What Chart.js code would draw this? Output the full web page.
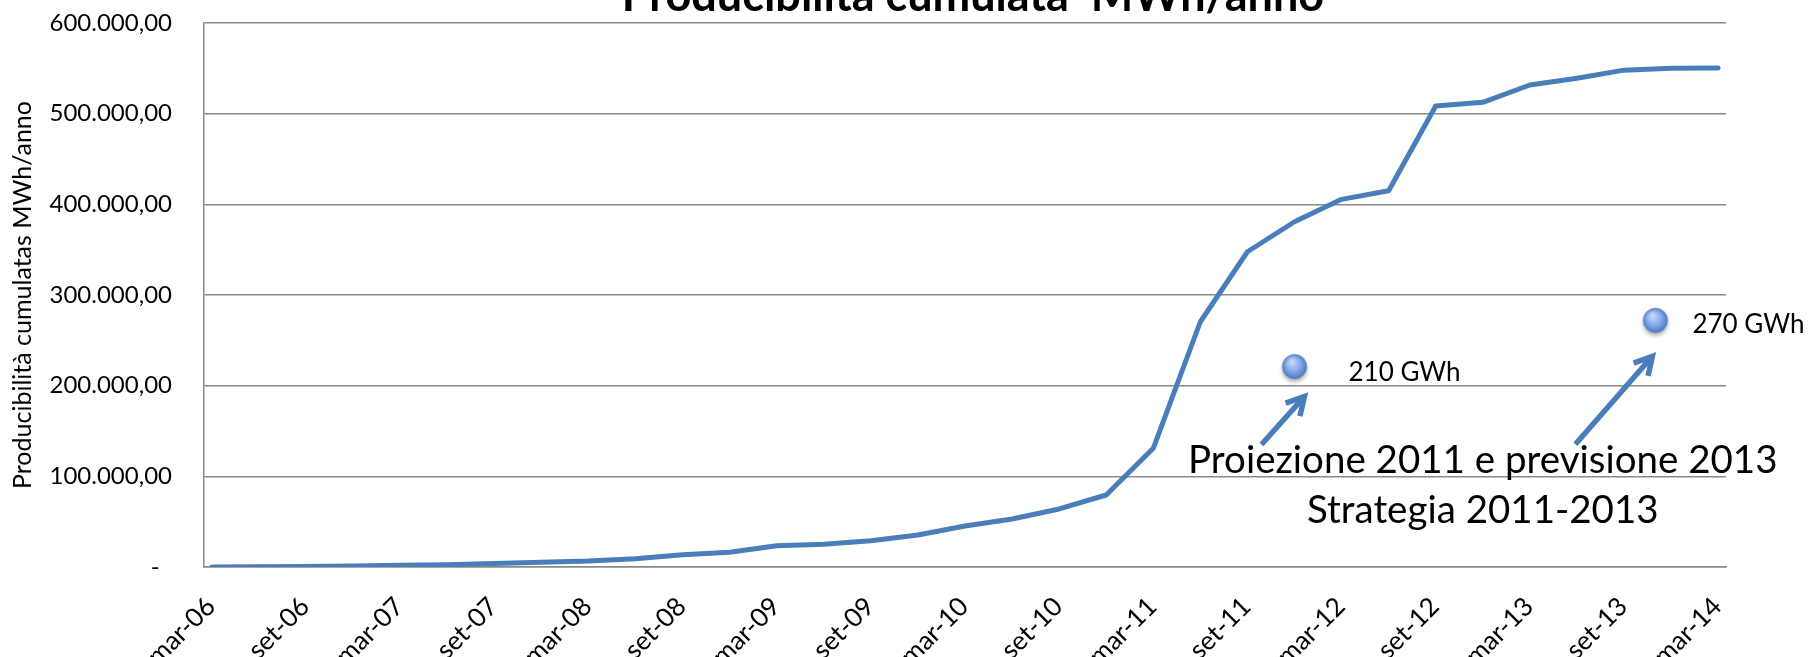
<!DOCTYPE html>
<html>
<head>
<meta charset="utf-8">
<script src="https://cdn.jsdelivr.net/npm/chart.js@4.4.1/dist/chart.umd.min.js"></script>
<style>
  html, body { margin: 0; padding: 0; background: #fff; }
</style>
</head>
<body>
<canvas id="chart" width="1808" height="657"></canvas>
<script>
// x axis runs in months from mar-06 (0) to mar-14 (96), labels every 6 months
const tickLabels = ['mar-06', 'set-06', 'mar-07', 'set-07', 'mar-08', 'set-08', 'mar-09', 'set-09',
  'mar-10', 'set-10', 'mar-11', 'set-11', 'mar-12', 'set-12', 'mar-13', 'set-13', 'mar-14'];

// quarterly values (every 3 months starting mar-06), MWh/anno
const cumulative = [0, 300, 600, 1100, 1800, 2600, 3800, 5200, 6500, 9000, 13500,
  16200, 23500, 25000, 29000, 35300, 45200, 52900, 64000, 79400, 130900,
  270500, 347700, 380800, 405500, 415000, 508400, 512500, 531600, 539000,
  548000, 550000, 550400];

// projection points (month index, value) and their labels
const projMonths = [69, 92];
const projValues = [220000, 271000];
const projLabels = ['210 GWh', '270 GWh'];

const titleText = 'Producibilità cumulata  MWh/anno';
const yTitle = 'Producibilità cumulatas MWh/anno';
const noteLines = ['Proiezione 2011 e previsione 2013', 'Strategia 2011-2013'];

const FONT = 'Lato, "Open Sans", sans-serif';
const BLUE = '#4a7ebb';
const GRID = '#8a8a8a';

function fmtIt(v) {
  if (v === 0) return '-  ';
  return String(Math.round(v)).replace(/\B(?=(\d{3})+(?!\d))/g, '.') + ',00';
}

// sphere-like marker, like the excel one
function makeMarker() {
  const c = document.createElement('canvas');
  c.width = 38; c.height = 38;
  const g = c.getContext('2d');
  g.save();
  g.shadowColor = 'rgba(0,0,0,0.35)';
  g.shadowBlur = 4;
  g.shadowOffsetY = 3;
  const grad = g.createRadialGradient(16, 13, 1, 19, 18, 13);
  grad.addColorStop(0, '#c4d8f8');
  grad.addColorStop(0.5, '#88adec');
  grad.addColorStop(1, '#4676c6');
  g.fillStyle = grad;
  g.beginPath();
  g.arc(19, 18, 12, 0, Math.PI * 2);
  g.fill();
  g.restore();
  g.strokeStyle = '#426fb3';
  g.lineWidth = 0.8;
  g.beginPath();
  g.arc(19, 18, 12, 0, Math.PI * 2);
  g.stroke();
  return c;
}

function drawArrow(ctx, x1, y1, x2, y2) {
  const ang = Math.atan2(y2 - y1, x2 - x1);
  const len = 20;
  ctx.beginPath();
  ctx.moveTo(x1, y1);
  ctx.lineTo(x2, y2);
  ctx.moveTo(x2 - len * Math.cos(ang - 0.5), y2 - len * Math.sin(ang - 0.5));
  ctx.lineTo(x2, y2);
  ctx.lineTo(x2 - len * Math.cos(ang + 0.5), y2 - len * Math.sin(ang + 0.5));
  ctx.stroke();
}

const extras = {
  id: 'extras',
  afterDatasetsDraw(chart) {
    const { ctx, chartArea, scales } = chart;
    const x = scales.x, y = scales.y;
    ctx.save();
    ctx.fillStyle = '#000';

    // title, mostly cut off at the top like the original
    ctx.font = 'bold 45px ' + FONT;
    ctx.textAlign = 'center';
    ctx.textBaseline = 'alphabetic';
    ctx.fillText(titleText, (chartArea.left + chartArea.right) / 2 + 8, 11);

    // x tick labels, 45 deg, ending just right of the tick
    ctx.font = '26px ' + FONT;
    ctx.textAlign = 'right';
    x.ticks.forEach((t, i) => {
      const px = x.getPixelForValue(t.value);
      ctx.save();
      ctx.translate(px + 5, chartArea.bottom + 41);
      ctx.rotate(-Math.PI / 4);
      ctx.fillText(tickLabels[i], 0, 0);
      ctx.restore();
    });

    // labels next to the projection points
    const labelOff = [[54, 5], [37, 3]];
    ctx.font = '26px ' + FONT;
    ctx.textAlign = 'left';
    ctx.textBaseline = 'middle';
    projMonths.forEach((m, i) => {
      const px = x.getPixelForValue(m), py = y.getPixelForValue(projValues[i]);
      ctx.fillText(projLabels[i], px + labelOff[i][0], py + labelOff[i][1]);
    });

    // arrows from the note to the points
    const arrowOff = [[-33, 77, 10, 29], [-80, 123, -3, 35]];
    ctx.strokeStyle = BLUE;
    ctx.lineWidth = 5.5;
    ctx.lineJoin = 'miter';
    projMonths.forEach((m, i) => {
      const px = x.getPixelForValue(m), py = y.getPixelForValue(projValues[i]);
      const a = arrowOff[i];
      drawArrow(ctx, px + a[0], py + a[1], px + a[2], py + a[3]);
    });

    // note text
    ctx.font = '38.5px ' + FONT;
    ctx.textAlign = 'center';
    ctx.textBaseline = 'alphabetic';
    const nx = x.getPixelForValue(81);
    ctx.fillText(noteLines[0], nx, y.getPixelForValue(104000));
    ctx.fillText(noteLines[1], nx, y.getPixelForValue(49000));
    ctx.restore();
  }
};

const lineData = cumulative.map((v, i) => ({ x: i * 3, y: v }));
const projData = projMonths.map((m, i) => ({ x: m, y: projValues[i] }));

new Chart(document.getElementById('chart'), {
  type: 'line',
  data: {
    datasets: [
      {
        label: 'Proiezione',
        type: 'scatter',
        data: projData,
        pointStyle: makeMarker(),
        pointRadius: 12,
        showLine: false
      },
      {
        label: 'Producibilità cumulata',
        data: lineData,
        borderColor: BLUE,
        borderWidth: 5,
        pointRadius: 0,
        tension: 0,
        borderJoinStyle: 'round',
        borderCapStyle: 'round'
      }
    ]
  },
  options: {
    responsive: false,
    animation: false,
    devicePixelRatio: 1,
    layout: { padding: { left: 8, right: 82, top: 23, bottom: 0 } },
    plugins: {
      legend: { display: false },
      tooltip: { enabled: false },
      title: { display: false }
    },
    scales: {
      x: {
        type: 'linear',
        min: -0.5,
        max: 96.5,
        afterBuildTicks: (scale) => {
          scale.ticks = tickLabels.map((_, i) => ({ value: i * 6 }));
        },
        afterFit: (scale) => {
          scale.height = 90;
          scale.paddingLeft = 0;
          scale.paddingRight = 0;
        },
        grid: { display: false, drawTicks: false },
        border: { display: true, color: GRID, width: 1.5 },
        ticks: { display: false }
      },
      y: {
        min: 0,
        max: 600000,
        afterFit: (scale) => {
          scale.width = 196;
          scale.paddingTop = 0;
          scale.paddingBottom = 0;
        },
        grid: { color: GRID, lineWidth: 1.5, drawTicks: false },
        border: { display: true, color: GRID, width: 1.5 },
        title: {
          display: true,
          text: yTitle,
          color: '#000',
          padding: 0,
          font: { family: FONT, size: 25 }
        },
        ticks: {
          stepSize: 100000,
          padding: 32,
          color: '#000',
          font: { family: FONT, size: 24 },
          callback: (v) => fmtIt(v)
        }
      }
    }
  },
  plugins: [extras]
});
</script>
</body>
</html>
